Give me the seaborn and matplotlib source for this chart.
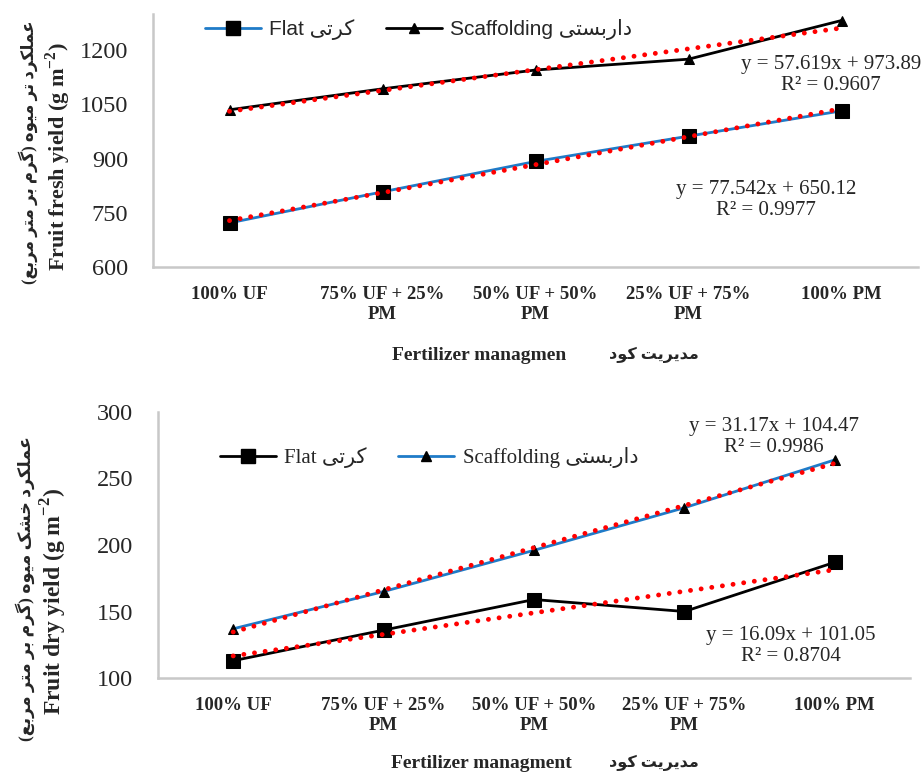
import numpy as np
import matplotlib
matplotlib.use("Agg")
import matplotlib.pyplot as plt
import seaborn as sns
from matplotlib.lines import Line2D

# categories (x axis)
treatments = ["100% UF", "75% UF + 25%\nPM", "50% UF + 50%\nPM", "25% UF + 75%\nPM", "100% PM"]

# fresh yield (g m-2)
fresh_flat = [722, 808, 892, 962, 1032]
fresh_scaff = [1035, 1093, 1145, 1175, 1282]
fresh_eq = ["y = 57.619x + 973.89\nR² = 0.9607", "y = 77.542x + 650.12\nR² = 0.9977"]
fresh_ticks = [600, 750, 900, 1050, 1200]

# dry yield (g m-2)
dry_flat = [113, 136, 159, 150, 187]
dry_scaff = [137, 165, 196, 228, 264]
dry_eq = ["y = 31.17x + 104.47\nR² = 0.9986", "y = 16.09x + 101.05\nR² = 0.8704"]
dry_ticks = [100, 150, 200, 250, 300]

BLUE = "#1f7bc8"
RED = "#ff0000"
GREY = "#c8c8c8"

# --- minimal persian shaping (matplotlib has no bidi / joining) ---
FORMS = {
    "ا": ("\ufe8d", "\ufe8e"),
    "د": ("\ufea9", "\ufeaa"),
    "ر": ("\ufead", "\ufeae"),
    "و": ("\ufeed", "\ufeee"),
    "ب": ("\ufe8f", "\ufe90", "\ufe91", "\ufe92"),
    "ت": ("\ufe95", "\ufe96", "\ufe97", "\ufe98"),
    "خ": ("\ufea5", "\ufea6", "\ufea7", "\ufea8"),
    "س": ("\ufeb1", "\ufeb2", "\ufeb3", "\ufeb4"),
    "ش": ("\ufeb5", "\ufeb6", "\ufeb7", "\ufeb8"),
    "ع": ("\ufec9", "\ufeca", "\ufecb", "\ufecc"),
    "ل": ("\ufedd", "\ufede", "\ufedf", "\ufee0"),
    "م": ("\ufee1", "\ufee2", "\ufee3", "\ufee4"),
    "ه": ("\ufee9", "\ufeea", "\ufeeb", "\ufeec"),
    "ی": ("\ufbfc", "\ufbfd", "\ufbfe", "\ufbff"),
    "ک": ("\ufb8e", "\ufb8f", "\ufb90", "\ufb91"),
    "گ": ("\ufb92", "\ufb93", "\ufb94", "\ufb95"),
}


def rtl(text):
    out = []
    for i, ch in enumerate(text):
        if ch not in FORMS:
            out.append({"(": ")", ")": "("}.get(ch, ch))
            continue
        prev = text[i - 1] if i > 0 else ""
        nxt = text[i + 1] if i + 1 < len(text) else ""
        f = FORMS[ch]
        jp = prev in FORMS and len(FORMS[prev]) == 4
        jn = nxt in FORMS and len(f) == 4
        if jp and jn:
            out.append(f[3])
        elif jp:
            out.append(f[1])
        elif jn:
            out.append(f[2])
        else:
            out.append(f[0])
    return "".join(reversed(out))


sns.set_style("white")
plt.rcParams["font.family"] = ["Liberation Serif", "DejaVu Sans"]
plt.rcParams["mathtext.fontset"] = "custom"
plt.rcParams["mathtext.rm"] = "Liberation Serif"
plt.rcParams["mathtext.bf"] = "Liberation Serif:bold"
plt.rcParams["axes.unicode_minus"] = False

fig = plt.figure(figsize=(9.24, 7.74), dpi=100)
W, H = 924.0, 774.0


def fx(px):
    return px / W


def fy(py):
    return 1 - py / H


ax1 = fig.add_axes([fx(153), fy(267), fx(918) - fx(153), fy(14) - fy(267)])
ax2 = fig.add_axes([fx(158), fy(678), fx(910) - fx(158), fy(412) - fy(678)])

xpos = np.arange(len(treatments))


def draw(ax, flat, scaff, flat_col, scaff_col, ylim, ticks):
    sns.lineplot(x=xpos, y=flat, ax=ax, color=flat_col, lw=2, marker="s",
                 markersize=10, markerfacecolor="black", markeredgecolor="black")
    sns.lineplot(x=xpos, y=scaff, ax=ax, color=scaff_col, lw=2, marker="^",
                 markersize=7.5, markerfacecolor="black", markeredgecolor="black")
    for vals in (flat, scaff):
        sns.regplot(x=xpos, y=vals, ax=ax, scatter=False, ci=None,
                    line_kws=dict(color=RED, lw=3.5, ls=(0, (0.01, 2.2)),
                                  dash_capstyle="round", zorder=5))
    ax.set_xlim(-0.5, 4.5)
    ax.set_ylim(*ylim)
    ax.set_yticks(ticks)
    ax.set_xticks(xpos)
    ax.set_xticklabels(treatments, fontweight="bold", fontsize=13.5, linespacing=1.2)
    ax.tick_params(axis="y", labelsize=17.5, pad=18, length=0)
    ax.tick_params(axis="x", pad=14, length=0)
    for s in ("top", "right"):
        ax.spines[s].set_visible(False)
    for s in ("left", "bottom"):
        ax.spines[s].set_color(GREY)
        ax.spines[s].set_linewidth(1.8)
    ax.set_xlabel("")
    ax.set_ylabel("")
    handles = [
        Line2D([], [], color=flat_col, lw=2, marker="s", markersize=10,
               markerfacecolor="black", markeredgecolor="black"),
        Line2D([], [], color=scaff_col, lw=2, marker="^", markersize=7.5,
               markerfacecolor="black", markeredgecolor="black"),
    ]
    return handles


h1 = draw(ax1, fresh_flat, fresh_scaff, BLUE, "black", (600, 1300), fresh_ticks)
h2 = draw(ax2, dry_flat, dry_scaff, "black", BLUE, (100, 300), dry_ticks)

leg_kw = dict(loc="center left", ncol=2, frameon=False, handlelength=2.7,
              columnspacing=1.5, handletextpad=0.4)
fig.legend(h1, ["Flat " + rtl("کرتی"), "Scaffolding " + rtl("داربستی")],
           bbox_to_anchor=(fx(186), fy(30)),
           prop=dict(family=["Liberation Sans", "DejaVu Sans"], size=15), **leg_kw)
fig.legend(h2, ["Flat " + rtl("کرتی"), "Scaffolding " + rtl("داربستی")],
           bbox_to_anchor=(fx(201), fy(458)),
           prop=dict(family=["Liberation Serif", "DejaVu Sans"], size=15), **leg_kw)

# trendline equations
eq_kw = dict(va="center", fontsize=15, linespacing=1.1, multialignment="center")
fig.text(fx(921), fy(75), fresh_eq[0], ha="right", **eq_kw)
fig.text(fx(766), fy(200), fresh_eq[1], ha="center", **eq_kw)
fig.text(fx(774), fy(437), dry_eq[0], ha="center", **eq_kw)
fig.text(fx(791), fy(646), dry_eq[1], ha="center", **eq_kw)

# axis titles
fig.text(fx(28), fy(152), rtl("عملکرد تر میوه (گرم بر متر مربع)"), rotation=90,
         ha="center", va="center", fontsize=12, fontweight="bold")
fig.text(fx(58), fy(157), r"Fruit fresh yield (g m$^{\mathbf{-2}}$)", rotation=90,
         ha="center", va="center", fontsize=16, fontweight="bold")
fig.text(fx(25), fy(589), rtl("عملکرد خشک میوه (گرم بر متر مربع)"), rotation=90,
         ha="center", va="center", fontsize=12.5, fontweight="bold")
fig.text(fx(54), fy(602), r"Fruit dry yield (g m$^{\mathbf{-2}}$)", rotation=90,
         ha="center", va="center", fontsize=17, fontweight="bold")

xl_kw = dict(va="center", ha="center", fontweight="bold")
fig.text(fx(479), fy(355), "Fertilizer managmen", fontsize=14, **xl_kw)
fig.text(fx(654), fy(355), rtl("مدیریت کود"), fontsize=11.5, **xl_kw)
fig.text(fx(481), fy(763), "Fertilizer managment", fontsize=14, **xl_kw)
fig.text(fx(654), fy(763), rtl("مدیریت کود"), fontsize=11.5, **xl_kw)

fig.savefig("out.png", dpi=100)
